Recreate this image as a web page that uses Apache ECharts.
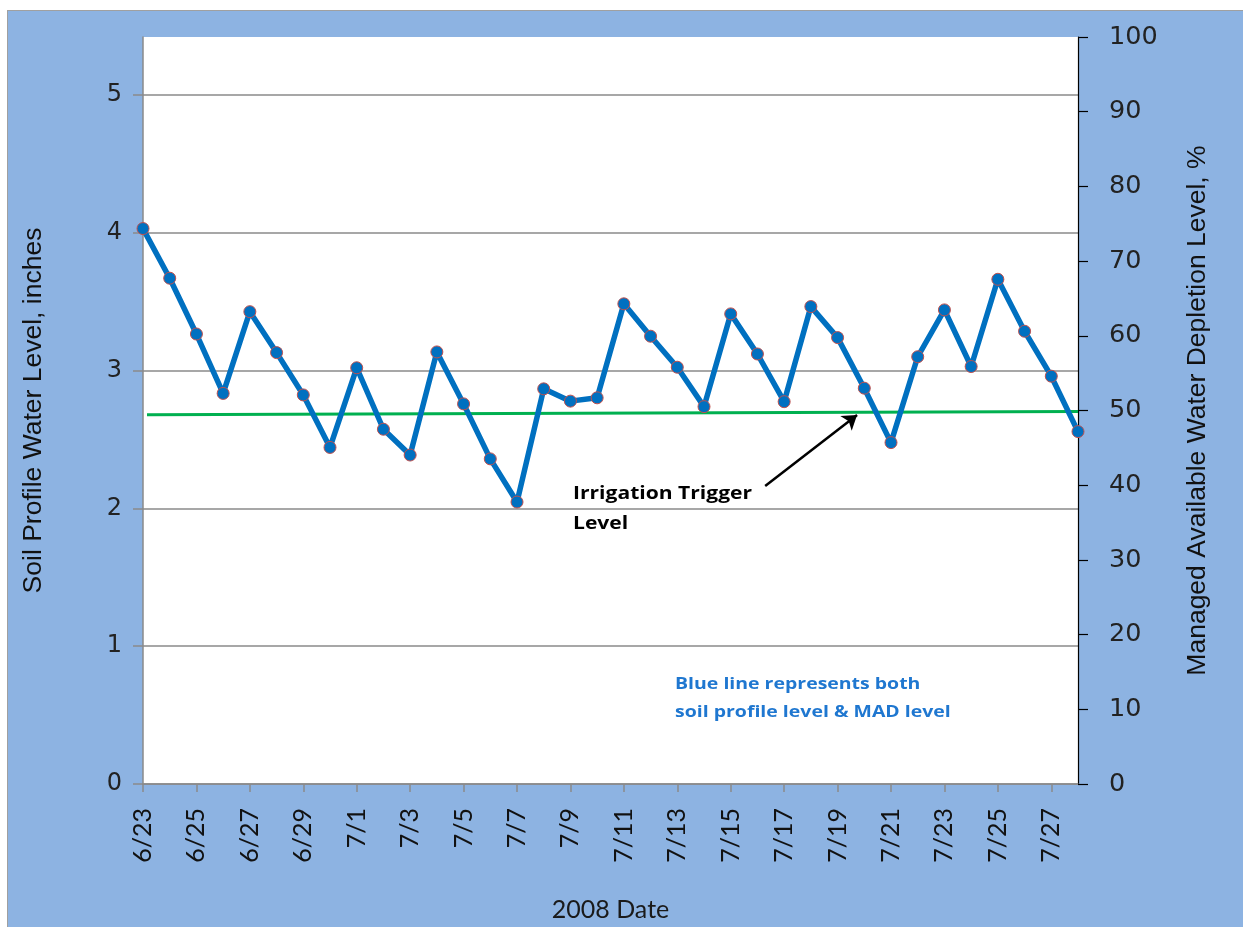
<!DOCTYPE html>
<html>
<head>
<meta charset="utf-8">
<script src="https://cdn.jsdelivr.net/npm/echarts@6/dist/echarts.min.js"></script>
<style>
  html, body { margin: 0; padding: 0; background: #ffffff; }
  #frame { position: absolute; left: 7px; top: 10px; width: 1236px; height: 917px;
           background: #8DB3E2; border-left: 1px solid #a0a0a0; border-top: 1px solid #a0a0a0; }
  #chart { position: absolute; left: 0; top: 0; width: 1243px; height: 927px; }
</style>
</head>
<body>
<div id="frame"></div>
<div id="chart"></div>
<script>
const dates = ['6/23','6/24','6/25','6/26','6/27','6/28','6/29','6/30',
  '7/1','7/2','7/3','7/4','7/5','7/6','7/7','7/8','7/9','7/10','7/11','7/12','7/13','7/14',
  '7/15','7/16','7/17','7/18','7/19','7/20','7/21','7/22','7/23','7/24','7/25','7/26','7/27','7/28'];
const soilLevel = [4.03,3.67,3.265,2.834,3.427,3.13,2.823,2.442,3.02,2.574,2.387,3.135,2.758,2.359,
  2.046,2.867,2.778,2.802,3.484,3.249,3.024,2.738,3.411,3.12,2.774,3.464,3.239,2.872,2.477,3.10,
  3.44,3.029,3.662,3.285,2.959,2.557];
const leftTicks = [0,1,2,3,4,5];
const rightTicks = [0,10,20,30,40,50,60,70,80,90,100];
const triggerLine = [[0.15, 2.68], [35, 2.703]];
const arrowFrom = [23.29, 2.163];
const arrowTo = [26.73, 2.678];
const triggerText = 'Irrigation Trigger\nLevel';
const noteText = 'Blue line represents both\nsoil profile level & MAD level';

const chart = echarts.init(document.getElementById('chart'), null, {renderer: 'canvas'});
const calibri = 'Lato, "Open Sans", sans-serif';
const nameFont = '"Liberation Sans Narrow", "Liberation Sans", sans-serif';
const option = {
  backgroundColor: 'transparent',
  animation: false,
  grid: { left: 143, top: 37, width: 935, height: 747, show: true,
          backgroundColor: '#ffffff', borderWidth: 0 },
  xAxis: [{
    type: 'category', data: dates, boundaryGap: false,
    name: '2008 Date', nameLocation: 'middle', nameGap: 113,
    nameTextStyle: { fontFamily: calibri, fontSize: 25, color: '#1a1a1a' },
    axisLine: { lineStyle: { color: '#8a8a8a', width: 1.5 } },
    axisTick: { show: true, interval: 1, length: 8, lineStyle: { color: '#8a8a8a', width: 1.5 } },
    axisLabel: { interval: 1, rotate: 90, margin: 24, fontFamily: calibri, fontSize: 25, color: '#111' },
    splitLine: { show: false }
  }, {
    type: 'value', min: 0, max: 35, show: false
  }],
  yAxis: [{
    type: 'value', min: 0, max: 5.42, interval: 1, position: 'left',
    name: 'Soil Profile Water Level, inches', nameLocation: 'middle', nameGap: 96, nameRotate: 90,
    nameTextStyle: { fontFamily: nameFont, fontSize: 26.5, color: '#111' },
    axisLine: { show: true, lineStyle: { color: '#8a8a8a', width: 1.5 } },
    axisTick: { show: true, length: 10, lineStyle: { color: '#8a8a8a', width: 1.5 }, customValues: leftTicks },
    axisLabel: { margin: 21, fontFamily: '"DejaVu Sans", sans-serif', fontSize: 24, color: '#222',
                 customValues: leftTicks },
    splitLine: { show: true, lineStyle: { color: '#8a8a8a', width: 1.5 } }
  }, {
    type: 'value', min: 0, max: 100, interval: 10, position: 'right',
    name: 'Managed Available Water Depletion Level, %', nameLocation: 'middle', nameGap: 106, nameRotate: 90,
    nameTextStyle: { fontFamily: nameFont, fontSize: 26.5, color: '#111' },
    axisLine: { show: true, lineStyle: { color: '#000', width: 1.2 } },
    axisTick: { show: true, length: 10, lineStyle: { color: '#000', width: 1.2 }, customValues: rightTicks },
    axisLabel: { margin: 31, fontFamily: '"DejaVu Sans", sans-serif', fontSize: 25.5, color: '#222', align: 'left',
                 customValues: rightTicks },
    splitLine: { show: false }
  }],
  series: [{
    type: 'line', name: 'trigger', xAxisIndex: 1, yAxisIndex: 0,
    data: triggerLine, symbol: 'none',
    lineStyle: { color: '#00B050', width: 3 },
    markLine: {
      silent: true, symbol: ['none', 'arrow'], symbolSize: 14,
      lineStyle: { color: '#000', width: 2.5, type: 'solid' },
      label: { show: false },
      data: [[{ coord: arrowFrom }, { coord: arrowTo }]]
    },
    z: 2
  }, {
    type: 'line', name: 'soil', xAxisIndex: 0, yAxisIndex: 0,
    data: soilLevel, symbol: 'circle', symbolSize: 12,
    lineStyle: { color: '#0070C0', width: 5.5 },
    itemStyle: { color: '#0070C0', borderColor: '#C0504D', borderWidth: 1 },
    z: 3
  }],
  graphic: [{
    type: 'text', x: 573, y: 479, scaleX: 1.17,
    style: { text: triggerText, fontFamily: '"Open Sans", Lato, sans-serif', fontWeight: 'bold', fontSize: 18,
             lineHeight: 30, fill: '#000', verticalAlign: 'top', align: 'left' }
  }, {
    type: 'text', x: 675, y: 670, scaleX: 1.18,
    style: { text: noteText, fontFamily: '"Open Sans", Lato, sans-serif', fontWeight: 'bold', fontSize: 16.5,
             lineHeight: 28, fill: '#1F77D0', verticalAlign: 'top', align: 'left' }
  }]
};
chart.setOption(option);
</script>
</body>
</html>
